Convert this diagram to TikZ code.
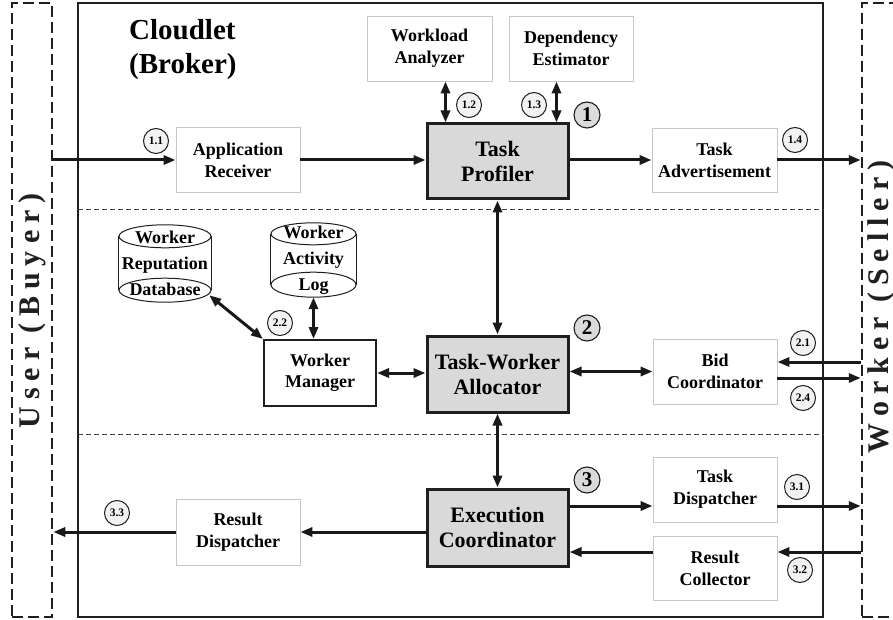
\documentclass[tikz,border=0pt]{standalone}
\usepackage{fontspec}
\setmainfont{Liberation Serif}
\usetikzlibrary{arrows.meta,calc}

% letter spacing for the two side labels
\newcommand{\lsp}{\hspace{7pt}}
\newcommand{\wsp}{\hspace{14pt}}

\tikzset{
  ink/.style={draw=black!88},
  lightbox/.style={draw=black!22, line width=0.8pt, minimum width=124pt, minimum height=65pt,
    inner sep=0pt, align=center, font=\bfseries\fontsize{18}{22}\selectfont},
  stagebox/.style={ink, line width=3pt, fill=black!15, minimum width=141pt, inner sep=0pt,
    align=center, font=\bfseries\fontsize{22}{25}\selectfont},
  mgrbox/.style={ink, line width=2pt, minimum width=112pt, minimum height=66pt, inner sep=0pt,
    align=center, font=\bfseries\fontsize{18}{21}\selectfont},
  dbtext/.style={inner sep=0pt, align=center, font=\bfseries\fontsize{18}{26}\selectfont},
  dbline/.style={ink, line width=1pt},
  steplbl/.style={circle, ink, line width=1pt, fill=black!5, minimum size=25pt, inner sep=0pt,
    font=\bfseries\fontsize{11.5}{13}\selectfont},
  stagelbl/.style={circle, ink, line width=1.1pt, fill=black!14, minimum size=26pt, inner sep=0pt,
    font=\bfseries\fontsize{21}{24}\selectfont},
  sidecol/.style={ink, line width=2.5pt, dash pattern=on 11pt off 5pt, minimum width=40pt,
    minimum height=614pt, inner sep=0pt},
  sidelbl/.style={rotate=90, inner sep=0pt, text=black!88, font=\bfseries\fontsize{30}{34}\selectfont},
  frame/.style={ink, line width=2pt, minimum width=745pt, minimum height=614pt, inner sep=0pt},
  sep/.style={draw=black!75, line width=0.9pt, dash pattern=on 5pt off 3pt},
  conn/.style={draw=black!90, line width=3pt, -{Triangle[length=12pt,width=9pt]}},
  dconn/.style={draw=black!90, line width=3pt,
    {Triangle[length=12pt,width=9pt]}-{Triangle[length=12pt,width=9pt]}},
}

\begin{document}
\begin{tikzpicture}[x=1pt, y=-1pt]
\clip (0,0) rectangle (893,620);
\fill[white] (0,0) rectangle (893,620);

% outer parties and the cloudlet frame
\node[sidecol] (buyer) at (32,310) {};
\node[sidecol] (seller) at (882,310) {};
\node[sidelbl] (buyerlbl) at (32,311) {U\lsp s\lsp e\lsp r\wsp (\lsp B\lsp u\lsp y\lsp e\lsp r\lsp )};
\node[sidelbl] (sellerlbl) at (881,307) {W\lsp o\lsp r\lsp k\lsp e\lsp r\wsp (\lsp S\lsp e\lsp l\lsp l\lsp e\lsp r\lsp )};
\node[frame] (cloudlet) at (450.5,310) {};
\node[anchor=north west, inner sep=0pt, align=left, font=\bfseries\fontsize{29}{34}\selectfont]
  (title) at (129,19) {Cloudlet\\(Broker)};

% stage separators
\coordinate (sepA) at (78,209);
\coordinate (sepB) at (78,434);
\draw[sep] (sepA) -- (sepA -| cloudlet.east);
\draw[sep] (sepB) -- (sepB -| cloudlet.east);

% stage 1: task profiling
\node[lightbox, minimum width=125pt] (wa) at (429.5,48.5) {Workload\\Analyzer};
\node[lightbox] (de) at (571,48.5) {Dependency\\Estimator};
\node[lightbox] (ar) at (238,160) {Application\\Receiver};
\node[stagebox, minimum height=75pt] (tp) at (497.5,161.5) {Task\\Profiler};
\node[lightbox, minimum width=125pt, minimum height=64pt] (ta) at (714.5,160) {Task\\Advertisement};

% stage 2: allocation
\node[dbtext, minimum width=92pt, minimum height=77pt] (wrd) at (165,263.5) {Worker\\Reputation\\Database};
\draw[dbline] ($(wrd.north west)+(0,11.5)$) -- ($(wrd.south west)+(0,-12)$);
\draw[dbline] ($(wrd.north east)+(0,11.5)$) -- ($(wrd.south east)+(0,-12)$);
\draw[dbline] ($(wrd.north)+(0,11.5)$) ellipse [x radius=46, y radius=11.5];
\draw[dbline] ($(wrd.south)+(0,-12)$) ellipse [x radius=46, y radius=12];

\node[dbtext, minimum width=85pt, minimum height=74pt] (wal) at (313.5,260) {Worker\\Activity\\Log};
\draw[dbline] ($(wal.north west)+(0,11)$) -- ($(wal.south west)+(0,-12.5)$);
\draw[dbline] ($(wal.north east)+(0,11)$) -- ($(wal.south east)+(0,-12.5)$);
\draw[dbline] ($(wal.north)+(0,11)$) ellipse [x radius=42.5, y radius=11];
\draw[dbline] ($(wal.south)+(0,-12.5)$) ellipse [x radius=42.5, y radius=12.5];

\node[mgrbox] (wm) at (320,373) {Worker\\Manager};
\node[stagebox, minimum height=76pt] (twa) at (497.5,374) {Task-Worker\\Allocator};
\node[lightbox] (bc) at (715,371.5) {Bid\\Coordinator};

% stage 3: execution
\node[lightbox, minimum height=66pt] (rd) at (238,532) {Result\\Dispatcher};
\node[stagebox, minimum height=77pt] (ec) at (497.5,527.5) {Execution\\Coordinator};
\node[lightbox] (td) at (715,489.5) {Task\\Dispatcher};
\node[lightbox, minimum height=64pt] (rc) at (715,568) {Result\\Collector};

% rows of the worker-side links
\coordinate (row21) at (0,362);
\coordinate (row24) at (0,378);
\coordinate (row31) at (0,506);
\coordinate (row32) at (0,552);
\coordinate (wap) at ([xshift=20pt]tp.north west);
\coordinate (dep) at ([xshift=-13pt]tp.north east);
\coordinate (wrdport) at ($(wrd.south east)+(-2,-7)$);

% connectors
\draw[conn] (ar.west -| buyer.east) -- (ar.west);
\draw[conn] (ar.east) -- (ar.east -| tp.west);
\draw[dconn] (wap) -- (wap |- wa.south);
\draw[dconn] (dep) -- (dep |- de.south);
\draw[conn] (tp.east |- ta.west) -- (ta.west);
\draw[conn] (ta.east) -- (ta.east -| seller.west);
\draw[dconn] (tp.south) -- (twa.north);

\draw[dconn] (twa.east |- bc.west) -- (bc.west);
\draw[dconn] (wm.east) -- (wm.east -| twa.west);
\draw[conn] (seller.west |- row21) -- (bc.east |- row21);
\draw[conn] (bc.east |- row24) -- (seller.west |- row24);
\draw[dconn] (wal.south) -- (wal.south |- wm.north);
\draw[dconn] (wrdport) -- (wm.north west);
\draw[dconn] (twa.south) -- (ec.north);

\draw[conn] (ec.east |- row31) -- (td.west |- row31);
\draw[conn] (td.east |- row31) -- (seller.west |- row31);
\draw[conn] (seller.west |- row32) -- (rc.east |- row32);
\draw[conn] (rc.west |- row32) -- (ec.east |- row32);
\draw[conn] (rd.east -| ec.west) -- (rd.east);
\draw[conn] (rd.west) -- (rd.west -| buyer.east);

% step markers
\node[steplbl] (m11) at (156,141) {1.1};
\node[steplbl] (m12) at (469,105) {1.2};
\node[steplbl] (m13) at (534,105) {1.3};
\node[steplbl] (m14) at (795,140) {1.4};
\node[steplbl] (m22) at (280,323) {2.2};
\node[steplbl] (m21) at (803,343) {2.1};
\node[steplbl] (m24) at (803,398) {2.4};
\node[steplbl] (m31) at (797,487) {3.1};
\node[steplbl] (m32) at (800,570) {3.2};
\node[steplbl] (m33) at (117,513) {3.3};
\node[stagelbl] (s1) at (587,115) {1};
\node[stagelbl] (s2) at (587,328) {2};
\node[stagelbl] (s3) at (587,480) {3};
\end{tikzpicture}
\end{document}
